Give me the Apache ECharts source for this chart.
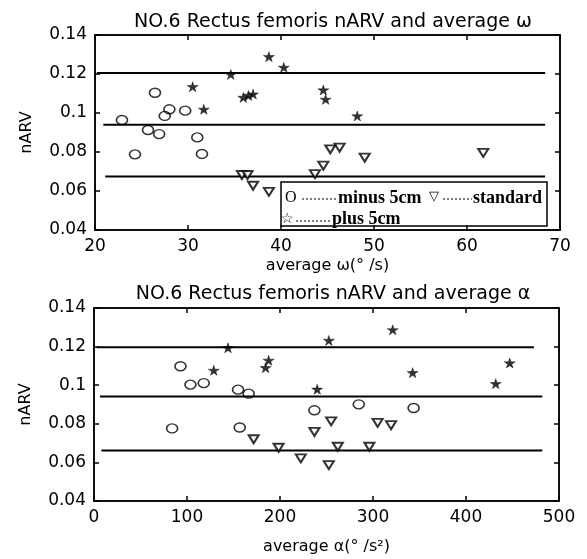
<!DOCTYPE html>
<html>
<head>
<meta charset="utf-8">
<script src="https://cdn.jsdelivr.net/npm/echarts@6/dist/echarts.min.js"></script>
<style>
html, body { margin: 0; padding: 0; background: #fff; }
#chart { width: 587px; height: 559px; }
</style>
</head>
<body>
<div id="chart"></div>
<script>
// nARV vs average angular velocity (top) and angular acceleration (bottom)
var omegaMinus = [[22.9, 0.0964], [24.3, 0.0788], [26.45, 0.1104], [25.7, 0.0913], [26.9, 0.0892],
    [27.5, 0.0985], [28.0, 0.1019], [29.7, 0.1012], [31.0, 0.0875], [31.5, 0.079]];
var omegaStandard = [[35.8, 0.0682], [36.4, 0.0682], [37.0, 0.0627], [38.7, 0.0596], [43.65, 0.0687],
    [44.55, 0.073], [45.3, 0.0814], [46.3, 0.0822], [49.0, 0.0771], [61.75, 0.0796]];
var omegaPlus = [[30.5, 0.1135], [31.7, 0.1019], [34.6, 0.1198], [35.95, 0.108], [36.5, 0.109],
    [37.0, 0.1097], [38.7, 0.1289], [40.3, 0.1234], [44.55, 0.1118], [44.8, 0.107], [48.2, 0.0985]];

var alphaMinus = [[84, 0.0776], [93, 0.1098], [103.7, 0.1003], [118, 0.1011], [154.9, 0.0977],
    [166.3, 0.0956], [156.7, 0.0781], [237, 0.087], [284.7, 0.0901], [343.7, 0.0882]];
var alphaStandard = [[171.7, 0.072], [198.5, 0.0676], [222.4, 0.0621], [237, 0.0758], [255, 0.0813],
    [252.5, 0.0586], [262.2, 0.0681], [296.1, 0.0681], [305, 0.0805], [319.4, 0.0793]];
var alphaPlus = [[128.8, 0.1077], [144.1, 0.1194], [184.5, 0.1091], [187.8, 0.1129], [240, 0.0979],
    [252.5, 0.1232], [321.2, 0.1287], [342.6, 0.1065], [432, 0.1008], [447, 0.1115]];

// horizontal reference levels
var omegaLevels = [0.1205, 0.094, 0.0675];
var omegaLineFrom = [20.2, 20.9, 21.1];
var omegaLineTo = [68.4, 68.4, 68.4];
var alphaLevels = [0.1197, 0.0941, 0.0662];
var alphaLineFrom = [2.9, 6.4, 8];
var alphaLineTo = [473, 482, 482];

var yMin = 0.04, yMax = 0.14, yStep = 0.02;
var omegaMin = 20, omegaMax = 70, omegaStep = 10;
var alphaMin = 0, alphaMax = 500, alphaStep = 100;

var myChart = echarts.init(document.getElementById('chart'));
var font = 'DejaVu Sans';
var serif = 'Liberation Serif, DejaVu Serif, serif';
var starPath = 'path://M50,0L61,35L98,35L68,57L79,91L50,70L21,91L32,57L2,35L39,35Z';

function axis(opts, labels) {
    var a = {
        axisLine: { show: true, onZero: false, lineStyle: { color: '#000', width: 1.5 } },
        axisTick: { show: true, inside: true, length: 5, lineStyle: { color: '#000', width: 1.5 } },
        splitLine: { show: false },
        axisLabel: labels ? { color: '#000', fontSize: 17, fontFamily: font, margin: 8 } : { show: false }
    };
    for (var k in opts) a[k] = opts[k];
    return a;
}

function levelLines(levels, from, to, idx) {
    return levels.map(function (v, i) {
        return {
            type: 'line', xAxisIndex: idx, yAxisIndex: idx,
            data: [[from[i], v], [to[i], v]],
            symbol: 'none', silent: true, z: 1,
            lineStyle: { color: '#000', width: 2 }
        };
    });
}

function markers(idx, minus, standard, plus) {
    return [
        { type: 'scatter', xAxisIndex: idx, yAxisIndex: idx, data: minus, symbol: 'circle', symbolSize: [11, 9],
          itemStyle: { color: 'rgba(0,0,0,0)', borderColor: '#000', borderWidth: 1.5 }, z: 3 },
        { type: 'scatter', xAxisIndex: idx, yAxisIndex: idx, data: standard, symbol: 'triangle', symbolRotate: 180,
          symbolSize: [10, 8], itemStyle: { color: '#fff', borderColor: '#000', borderWidth: 2 }, z: 3 },
        { type: 'scatter', xAxisIndex: idx, yAxisIndex: idx, data: plus, symbol: starPath, symbolSize: [11, 10],
          itemStyle: { color: '#000', borderColor: '#000', borderWidth: 0.5 }, z: 3 }
    ];
}

// empty series so the mirrored top/right axes get drawn with their ticks
function mirror(idx) {
    return { type: 'scatter', xAxisIndex: idx, yAxisIndex: idx, data: [], silent: true };
}

var nameStyle = { color: '#000', fontSize: 16, fontFamily: font };

option = {
    animation: false,
    backgroundColor: '#fff',
    title: [
        { text: 'NO.6 Rectus femoris nARV and average ω', left: 328, top: 8, textAlign: 'center',
          textStyle: { color: '#000', fontSize: 19, fontWeight: 'normal', fontFamily: font } },
        { text: 'NO.6 Rectus femoris nARV and average α', left: 328, top: 280, textAlign: 'center',
          textStyle: { color: '#000', fontSize: 19, fontWeight: 'normal', fontFamily: font } }
    ],
    grid: [
        { left: 95, top: 35, width: 465, height: 195, show: true, borderColor: '#000', borderWidth: 1.5, backgroundColor: 'transparent' },
        { left: 94, top: 308, width: 465, height: 193, show: true, borderColor: '#000', borderWidth: 1.5, backgroundColor: 'transparent' }
    ],
    xAxis: [
        axis({ type: 'value', gridIndex: 0, min: omegaMin, max: omegaMax, interval: omegaStep,
               name: 'average ω(° /s)', nameLocation: 'middle', nameGap: 28, nameTextStyle: nameStyle }, true),
        axis({ type: 'value', gridIndex: 1, min: alphaMin, max: alphaMax, interval: alphaStep,
               name: 'average α(° /s²)', nameLocation: 'middle', nameGap: 38, nameTextStyle: nameStyle }, true),
        axis({ type: 'value', gridIndex: 0, position: 'top', min: omegaMin, max: omegaMax, interval: omegaStep }, false),
        axis({ type: 'value', gridIndex: 1, position: 'top', min: alphaMin, max: alphaMax, interval: alphaStep }, false)
    ],
    yAxis: [
        axis({ type: 'value', gridIndex: 0, min: yMin, max: yMax, interval: yStep,
               name: 'nARV', nameLocation: 'middle', nameGap: 60, nameTextStyle: nameStyle }, true),
        axis({ type: 'value', gridIndex: 1, min: yMin, max: yMax, interval: yStep,
               name: 'nARV', nameLocation: 'middle', nameGap: 60, nameTextStyle: nameStyle }, true),
        axis({ type: 'value', gridIndex: 0, position: 'right', min: yMin, max: yMax, interval: yStep }, false),
        axis({ type: 'value', gridIndex: 1, position: 'right', min: yMin, max: yMax, interval: yStep }, false)
    ],
    series: [].concat(
        levelLines(omegaLevels, omegaLineFrom, omegaLineTo, 0),
        markers(0, omegaMinus, omegaStandard, omegaPlus),
        levelLines(alphaLevels, alphaLineFrom, alphaLineTo, 1),
        markers(1, alphaMinus, alphaStandard, alphaPlus),
        [mirror(2), mirror(3)]
    ),
    graphic: [{
        type: 'group', z: 100,
        children: [
            { type: 'rect', shape: { x: 281, y: 182, width: 266, height: 44 },
              style: { fill: '#fff', stroke: '#000', lineWidth: 1.5 } },
            { type: 'text', x: 285, y: 198, style: { text: 'O', fontFamily: serif, fontSize: 16, fill: '#000', verticalAlign: 'middle' } },
            { type: 'line', shape: { x1: 302, y1: 199, x2: 337, y2: 199 }, style: { stroke: '#000', lineWidth: 1, lineDash: [2, 2] } },
            { type: 'text', x: 338, y: 198, style: { text: 'minus 5cm', fontFamily: serif, fontSize: 18, fontWeight: 'bold', fill: '#000', verticalAlign: 'middle' } },
            { type: 'text', x: 429, y: 197, style: { text: '▽', fontFamily: 'DejaVu Sans', fontSize: 13, fill: '#000', verticalAlign: 'middle' } },
            { type: 'line', shape: { x1: 443, y1: 199, x2: 472, y2: 199 }, style: { stroke: '#000', lineWidth: 1, lineDash: [2, 2] } },
            { type: 'text', x: 473, y: 198, style: { text: 'standard', fontFamily: serif, fontSize: 18, fontWeight: 'bold', fill: '#000', verticalAlign: 'middle' } },
            { type: 'text', x: 281, y: 219, style: { text: '☆', fontFamily: 'DejaVu Sans', fontSize: 14, fill: '#000', verticalAlign: 'middle' } },
            { type: 'line', shape: { x1: 296, y1: 221, x2: 331, y2: 221 }, style: { stroke: '#000', lineWidth: 1, lineDash: [2, 2] } },
            { type: 'text', x: 332, y: 219, style: { text: 'plus 5cm', fontFamily: serif, fontSize: 18, fontWeight: 'bold', fill: '#000', verticalAlign: 'middle' } }
        ]
    }]
};
myChart.setOption(option);
</script>
</body>
</html>
